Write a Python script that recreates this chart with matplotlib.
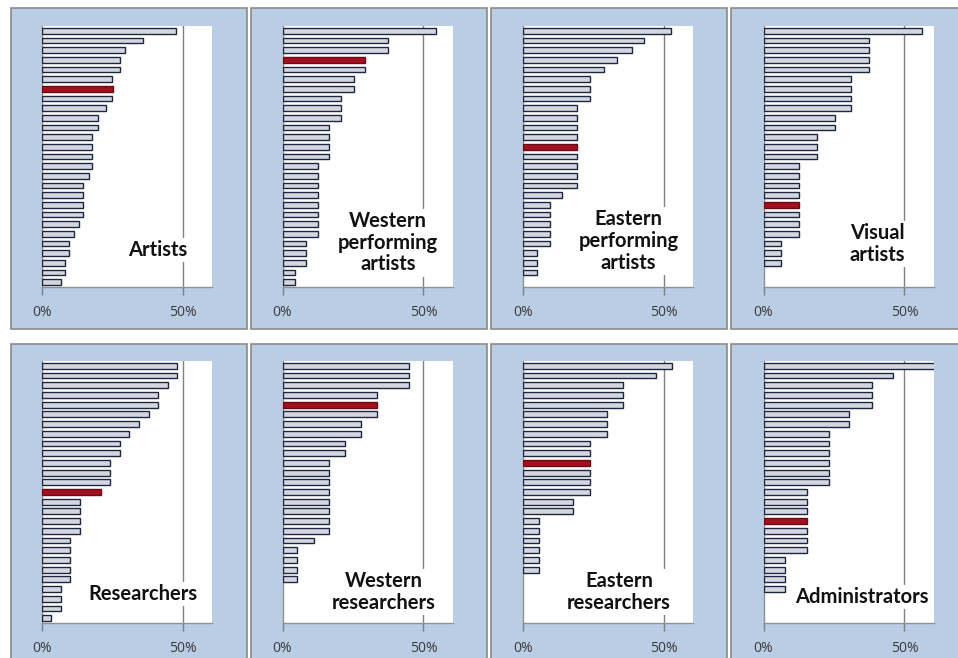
import matplotlib
matplotlib.use("Agg")
import matplotlib.pyplot as plt
from matplotlib.patches import Rectangle

# share of respondents (%) per item, top item first
artists = [47.6, 36.0, 29.6, 27.6, 27.6, 24.7, 25.1, 24.7, 22.7, 19.8, 19.8, 17.9, 17.9, 17.9,
           17.9, 16.5, 14.5, 14.5, 14.5, 14.5, 13.1, 11.5, 9.6, 9.6, 8.2, 8.2, 6.8]
western_performing = [54.4, 37.4, 37.4, 29.3, 29.1, 25.3, 25.3, 20.9, 20.9, 20.9, 16.5, 16.5, 16.5,
                      16.5, 12.6, 12.6, 12.6, 12.6, 12.6, 12.6, 12.6, 12.6, 8.2, 8.2, 8.2, 4.3, 4.3]
eastern_performing = [52.6, 42.9, 38.5, 33.5, 28.6, 23.8, 23.8, 23.8, 19.0, 19.0, 19.0, 19.0, 19.2,
                      19.0, 19.0, 19.0, 19.0, 14.0, 9.7, 9.7, 9.7, 9.7, 9.7, 4.9, 4.9, 4.9, 0]
visual = [56.2, 37.4, 37.4, 37.4, 37.4, 31.0, 31.0, 31.0, 31.0, 25.2, 25.2, 18.9, 18.9, 18.9,
          12.6, 12.6, 12.6, 12.6, 12.6, 12.6, 12.6, 12.6, 6.2, 6.2, 6.2, 0, 0]
researchers = [48.0, 48.0, 44.7, 41.2, 41.2, 37.9, 34.4, 31.0, 27.6, 27.6, 24.2, 24.2, 24.2, 21.0,
               13.5, 13.5, 13.5, 13.5, 10.1, 10.1, 10.1, 10.1, 10.1, 6.7, 6.7, 6.7, 3.3]
western_researchers = [44.7, 44.7, 44.7, 33.5, 33.5, 33.5, 27.7, 27.7, 22.3, 22.3, 16.5, 16.5, 16.5,
                       16.5, 16.5, 16.5, 16.5, 16.5, 11.2, 5.3, 5.3, 5.3, 5.3, 0, 0, 0, 0]
eastern_researchers = [53.0, 47.1, 35.5, 35.5, 35.5, 29.7, 29.7, 29.7, 23.9, 23.9, 23.9, 23.9, 23.9,
                       23.9, 17.6, 17.6, 5.8, 5.8, 5.8, 5.8, 5.8, 5.8, 0, 0, 0, 0, 0]
administrators = [62.0, 46.1, 38.4, 38.4, 38.4, 30.5, 30.5, 23.3, 23.3, 23.3, 23.3, 23.3, 23.3,
                  15.4, 15.4, 15.4, 15.4, 15.4, 15.4, 15.4, 7.6, 7.6, 7.6, 7.6, 0, 0, 0]

series = [artists, western_performing, eastern_performing, visual,
          researchers, western_researchers, eastern_researchers, administrators]
titles = ["Artists", "Western\nperforming\nartists", "Eastern\nperforming\nartists", "Visual\nartists",
          "Researchers", "Western\nresearchers", "Eastern\nresearchers", "Administrators"]
highlight = [6, 3, 12, 18, 13, 4, 10, 16]
title_pos = [(0.68, 0.14), (0.62, 0.169), (0.62, 0.176), (0.67, 0.165),
             (0.595, 0.11), (0.595, 0.118), (0.565, 0.118), (0.576, 0.10)]

W, H = 958, 658
fig = plt.figure(figsize=(W / 100, H / 100), dpi=100)
fig.patch.set_facecolor("white")

def fig_box(x0, y0, x1, y1):
    # pixel box (top-left origin) -> figure fraction [left, bottom, width, height]
    return [x0 / W, 1 - y1 / H, (x1 - x0) / W, (y1 - y0) / H]

panel_rows = [(8, 329), (344, 690)]
plot_rows = [(26, 287), (361, 623)]

for k, vals in enumerate(series):
    r, c = divmod(k, 4)
    px = 11 + 240 * c
    b = fig_box(px, panel_rows[r][0], px + 236, panel_rows[r][1])
    fig.patches.append(Rectangle((b[0], b[1]), b[2], b[3], transform=fig.transFigure,
                                 facecolor="#b9cde5", edgecolor="#8a8a8a", linewidth=1.2, zorder=-5))

    ax = fig.add_axes(fig_box(42 + 240.5 * c, plot_rows[r][0], 212 + 240.5 * c, plot_rows[r][1]))
    ax.set_facecolor("white")
    ypos = list(range(len(vals)))
    colors = ["#a3101f" if i == highlight[k] else "#d4d7e0" for i in ypos]
    edges = []
    for i, v in enumerate(vals):
        if v == 0:
            edges.append("none")
        elif i == highlight[k]:
            edges.append("#6e0a14")
        else:
            edges.append("#1c2740")
    ax.barh(ypos, vals, height=0.6, color=colors, edgecolor=edges, linewidth=1.0, zorder=3)
    ax.axvline(50, color="#808080", linewidth=1.0, zorder=1)
    ax.set_xlim(0, 60.3)
    ax.set_ylim(len(vals) - 0.5, -0.5)
    ax.set_xticks([0, 50])
    ax.set_xticklabels(["0%", "50%"], fontsize=10, color="#3a3a3a", family=["Open Sans", "DejaVu Sans"])
    ax.set_yticks([])
    ax.tick_params(axis="x", length=6, width=1, color="#808080", direction="out", pad=7)
    for s in ["top", "right"]:
        ax.spines[s].set_visible(False)
    for s in ["left", "bottom"]:
        ax.spines[s].set_color("#909090")
        ax.spines[s].set_linewidth(1.0)
    ax.text(title_pos[k][0], title_pos[k][1], titles[k], transform=ax.transAxes,
            ha="center", va="center", fontsize=14.5, fontweight="bold", color="#111111",
            family=["Lato", "DejaVu Sans"], linespacing=1.1, zorder=5,
            bbox=dict(facecolor="white", edgecolor="none", pad=1.5))

fig.savefig("out.png", dpi=100)
